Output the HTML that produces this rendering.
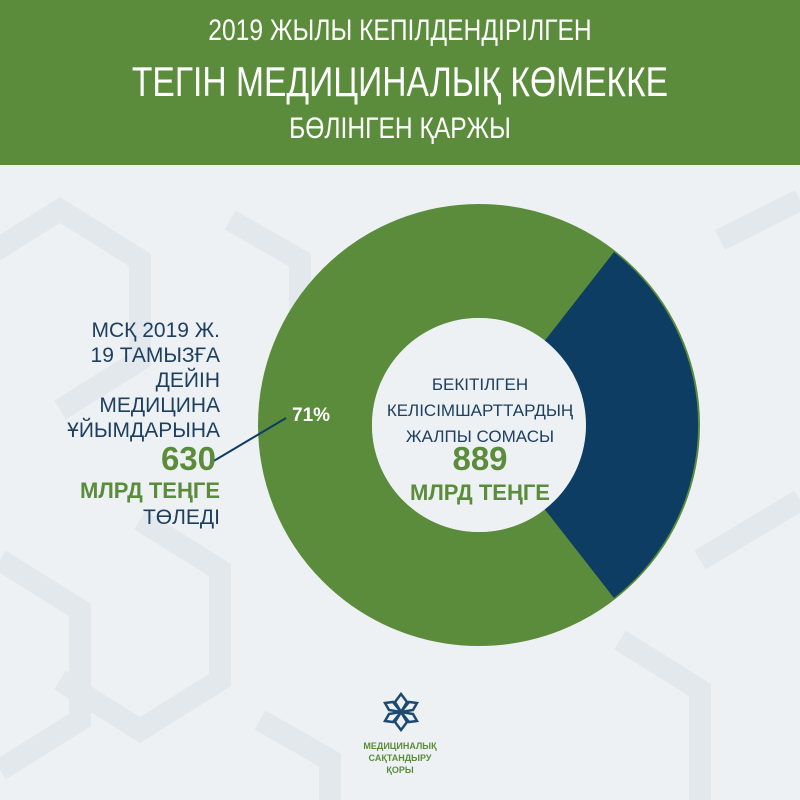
<!DOCTYPE html>
<html><head><meta charset="utf-8"><style>
body{margin:0;width:800px;height:800px;overflow:hidden;background:#eef1f3;font-family:"Liberation Sans","DejaVu Sans",sans-serif;position:relative}
.hd{position:absolute;left:0;top:0;width:800px;height:165px;background:#5b8c3b;color:#fff;text-align:center;font-family:"Liberation Sans Narrow","Liberation Sans",sans-serif}
.t{position:absolute;white-space:nowrap}
</style></head><body>
<svg width="800" height="800" style="position:absolute;left:0;top:0">
<g fill="none" stroke="#e3e8ec" stroke-width="22">
<path d="M-20 260 L60 210 L140 260 L140 360 L60 410"/>
<path d="M230 220 L300 260 L300 330"/>
<path d="M0 560 L80 610 L80 720 L0 770"/>
<path d="M140 520 L220 570 L220 680 L140 730 L60 680"/>
<path d="M620 640 L700 690 L700 800"/>
<path d="M700 560 L800 500"/>
<path d="M720 240 L800 200"/>
<path d="M260 720 L330 760 L330 820"/>
</g>
<g fill="none" stroke="#6a9849" stroke-width="20" opacity="0.6">
<path d="M20 120 L90 80 L160 120"/>
<path d="M650 130 L720 90 L790 130"/>
<path d="M380 40 L440 0"/>
</g>
</svg>
<div class="hd">
<div class="t" style="left:0;width:800px;top:14px;font-size:30px;transform:scaleX(.82)">2019 ЖЫЛЫ КЕПІЛДЕНДІРІЛГЕН</div>
<div class="t" style="left:0;width:800px;top:58px;font-size:42px;transform:scaleX(.8)">ТЕГІН МЕДИЦИНАЛЫҚ КӨМЕККЕ</div>
<div class="t" style="left:0;width:800px;top:112px;font-size:30px;transform:scaleX(.82)">БӨЛІНГЕН ҚАРЖЫ</div>
</div>
<svg width="800" height="800" style="position:absolute;left:0;top:0">
<circle cx="479" cy="425" r="164" fill="none" stroke="#5b8c3b" stroke-width="114"/>
<path d="M479 425 L614 252 A220 220 0 0 1 614 598 Z" fill="#0d3d63"/>
<circle cx="479" cy="425" r="107" fill="#eef1f3"/>
<line x1="212" y1="462" x2="286" y2="418" stroke="#0d3d63" stroke-width="2"/>
<g transform="translate(401,712)" fill="none" stroke="#1d4a70" stroke-width="2.5">
<path d="M0 -18 L6 -10 L0 0 L-6 -10 Z"/><path d="M0 18 L6 10 L0 0 L-6 10 Z"/>
<path d="M-16 -9 L-8 -10 L0 0 L-12 -2 Z"/><path d="M16 -9 L8 -10 L0 0 L12 -2 Z"/>
<path d="M-16 9 L-8 10 L0 0 L-12 2 Z"/><path d="M16 9 L8 10 L0 0 L12 2 Z"/>
</g>
</svg>
<div class="t" style="left:292px;top:405px;font-size:19px;font-weight:bold;color:#fff">71%</div>
<div class="t" style="left:20px;top:318px;width:200px;text-align:right;font-size:21px;line-height:25px;color:#1d3f60">МСҚ 2019 Ж.<br>19 ТАМЫЗҒА<br>ДЕЙІН<br>МЕДИЦИНА<br>ҰЙЫМДАРЫНА</div>
<div class="t" style="left:20px;top:440px;width:196px;text-align:right;font-size:33px;font-weight:bold;color:#5b8c3b">630</div>
<div class="t" style="left:20px;top:478px;width:200px;text-align:right;font-size:22px;font-weight:bold;color:#5b8c3b">МЛРД ТЕҢГЕ</div>
<div class="t" style="left:20px;top:506px;width:200px;text-align:right;font-size:21px;color:#1d3f60">ТӨЛЕДІ</div>
<div class="t" style="left:365px;top:372px;width:230px;text-align:center;font-size:17px;line-height:26px;color:#1d3f60">БЕКІТІЛГЕН<br>КЕЛІСІМШАРТТАРДЫҢ<br>ЖАЛПЫ СОМАСЫ</div>
<div class="t" style="left:365px;top:440px;width:230px;text-align:center;font-size:33px;font-weight:bold;color:#5b8c3b">889</div>
<div class="t" style="left:365px;top:480px;width:230px;text-align:center;font-size:22px;font-weight:bold;color:#5b8c3b">МЛРД ТЕҢГЕ</div>
<div class="t" style="left:340px;top:740px;width:120px;text-align:center;font-size:9px;line-height:12px;font-weight:bold;color:#5b8c3b">МЕДИЦИНАЛЫҚ<br>САҚТАНДЫРУ<br>ҚОРЫ</div>
</body></html>
